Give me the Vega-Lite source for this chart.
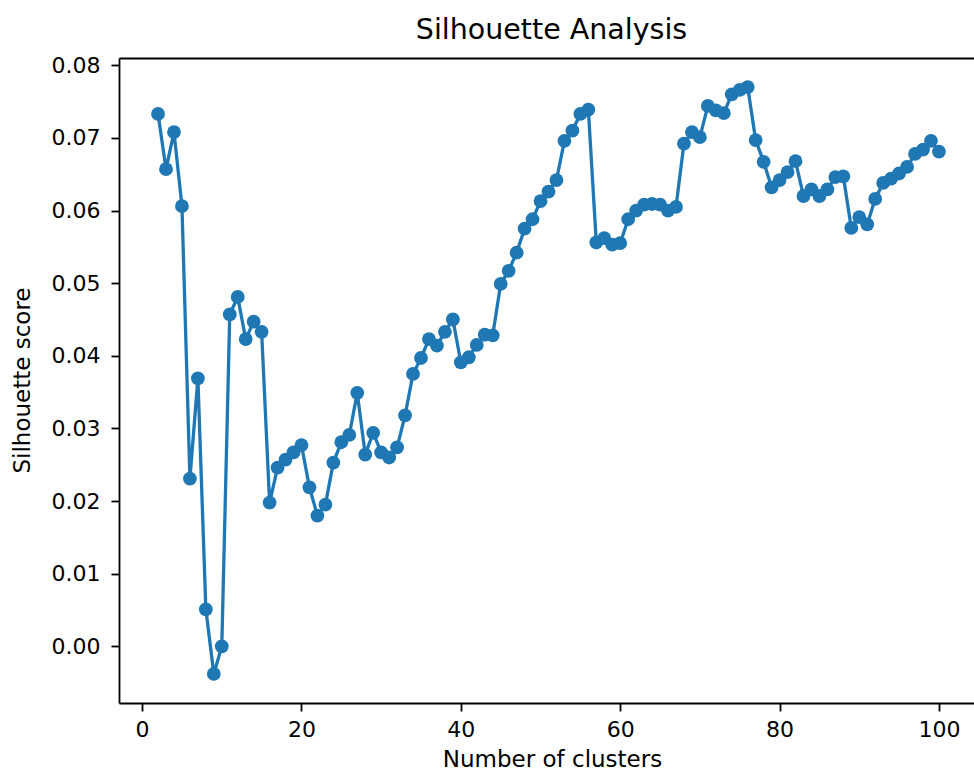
{
  "$schema": "https://vega.github.io/schema/vega-lite/v6.json",
  "autosize": {"type": "none"},
  "padding": {"left": 119, "top": 58, "right": 0, "bottom": 71},
  "width": 855,
  "height": 645,
  "background": "white",
  "title": {
    "text": "Silhouette Analysis",
    "font": "DejaVu Sans",
    "fontSize": 28.5,
    "fontWeight": "normal",
    "color": "black",
    "anchor": "middle",
    "frame": "group",
    "dx": 5,
    "offset": 10
  },
  "config": {
    "view": {"stroke": null},
    "axis": {
      "grid": false,
      "domainColor": "black",
      "domainWidth": 1.8,
      "tickColor": "black",
      "tickWidth": 1.8,
      "tickSize": 8,
      "labelFont": "DejaVu Sans",
      "labelFontSize": 22,
      "labelColor": "black",
      "titleFont": "DejaVu Sans",
      "titleFontSize": 23,
      "titleFontWeight": "normal",
      "titleColor": "black"
    }
  },
  "data": {
    "values": [
      {"k": 2, "score": 0.0733}, {"k": 3, "score": 0.0657}, {"k": 4, "score": 0.0708},
      {"k": 5, "score": 0.0606}, {"k": 6, "score": 0.0231}, {"k": 7, "score": 0.0369},
      {"k": 8, "score": 0.0051}, {"k": 9, "score": -0.0038}, {"k": 10, "score": 0.0000},
      {"k": 11, "score": 0.0457}, {"k": 12, "score": 0.0481}, {"k": 13, "score": 0.0423},
      {"k": 14, "score": 0.0447}, {"k": 15, "score": 0.0433}, {"k": 16, "score": 0.0198},
      {"k": 17, "score": 0.0246}, {"k": 18, "score": 0.0257}, {"k": 19, "score": 0.0267},
      {"k": 20, "score": 0.0277}, {"k": 21, "score": 0.0219}, {"k": 22, "score": 0.0180},
      {"k": 23, "score": 0.0195}, {"k": 24, "score": 0.0253}, {"k": 25, "score": 0.0281},
      {"k": 26, "score": 0.0291}, {"k": 27, "score": 0.0349}, {"k": 28, "score": 0.0264},
      {"k": 29, "score": 0.0294}, {"k": 30, "score": 0.0267}, {"k": 31, "score": 0.0260},
      {"k": 32, "score": 0.0274}, {"k": 33, "score": 0.0318}, {"k": 34, "score": 0.0375},
      {"k": 35, "score": 0.0397}, {"k": 36, "score": 0.0423}, {"k": 37, "score": 0.0414},
      {"k": 38, "score": 0.0433}, {"k": 39, "score": 0.0450}, {"k": 40, "score": 0.0391},
      {"k": 41, "score": 0.0398}, {"k": 42, "score": 0.0415}, {"k": 43, "score": 0.0429},
      {"k": 44, "score": 0.0428}, {"k": 45, "score": 0.0499}, {"k": 46, "score": 0.0517},
      {"k": 47, "score": 0.0542}, {"k": 48, "score": 0.0575}, {"k": 49, "score": 0.0588},
      {"k": 50, "score": 0.0613}, {"k": 51, "score": 0.0626}, {"k": 52, "score": 0.0642},
      {"k": 53, "score": 0.0696}, {"k": 54, "score": 0.0710}, {"k": 55, "score": 0.0733},
      {"k": 56, "score": 0.0739}, {"k": 57, "score": 0.0556}, {"k": 58, "score": 0.0562},
      {"k": 59, "score": 0.0553}, {"k": 60, "score": 0.0555}, {"k": 61, "score": 0.0588},
      {"k": 62, "score": 0.0600}, {"k": 63, "score": 0.0608}, {"k": 64, "score": 0.0609},
      {"k": 65, "score": 0.0608}, {"k": 66, "score": 0.0600}, {"k": 67, "score": 0.0605},
      {"k": 68, "score": 0.0692}, {"k": 69, "score": 0.0708}, {"k": 70, "score": 0.0701},
      {"k": 71, "score": 0.0744}, {"k": 72, "score": 0.0738}, {"k": 73, "score": 0.0734},
      {"k": 74, "score": 0.0760}, {"k": 75, "score": 0.0766}, {"k": 76, "score": 0.0770},
      {"k": 77, "score": 0.0697}, {"k": 78, "score": 0.0667}, {"k": 79, "score": 0.0632},
      {"k": 80, "score": 0.0642}, {"k": 81, "score": 0.0653}, {"k": 82, "score": 0.0668},
      {"k": 83, "score": 0.0620}, {"k": 84, "score": 0.0629}, {"k": 85, "score": 0.0620},
      {"k": 86, "score": 0.0629}, {"k": 87, "score": 0.0646}, {"k": 88, "score": 0.0647},
      {"k": 89, "score": 0.0576}, {"k": 90, "score": 0.0591}, {"k": 91, "score": 0.0581},
      {"k": 92, "score": 0.0616}, {"k": 93, "score": 0.0638}, {"k": 94, "score": 0.0644},
      {"k": 95, "score": 0.0651}, {"k": 96, "score": 0.0660}, {"k": 97, "score": 0.0678},
      {"k": 98, "score": 0.0684}, {"k": 99, "score": 0.0696}, {"k": 100, "score": 0.0681}
    ]
  },
  "resolve": {"axis": {"x": "independent"}},
  "layer": [
    {
      "mark": {"type": "line", "color": "#1f77b4", "strokeWidth": 3.3},
      "encoding": {
        "x": {
          "field": "k",
          "type": "quantitative",
          "scale": {"domain": [-2.9, 104.4], "nice": false, "zero": false},
          "axis": {
            "orient": "bottom",
            "values": [0, 20, 40, 60, 80, 100],
            "format": "d",
            "labelPadding": 8,
            "title": "Number of clusters",
            "titlePadding": 8,
            "titleX": 433
          }
        },
        "y": {
          "field": "score",
          "type": "quantitative",
          "scale": {"domain": [-0.0078, 0.081], "nice": false, "zero": false},
          "axis": {
            "values": [0, 0.01, 0.02, 0.03, 0.04, 0.05, 0.06, 0.07, 0.08],
            "format": ".2f",
            "labelPadding": 11,
            "title": "Silhouette score",
            "titleX": -97,
            "titleY": 322,
            "titleAngle": -90,
            "titleAlign": "center",
            "titleBaseline": "middle"
          }
        }
      }
    },
    {
      "mark": {"type": "point", "filled": true, "opacity": 1, "color": "#1f77b4", "size": 190, "shape": "circle"},
      "encoding": {
        "x": {
          "field": "k",
          "type": "quantitative",
          "scale": {"domain": [-2.9, 104.4], "nice": false, "zero": false},
          "axis": {"orient": "top", "labels": false, "ticks": false, "title": null}
        },
        "y": {"field": "score", "type": "quantitative"}
      }
    }
  ]
}
